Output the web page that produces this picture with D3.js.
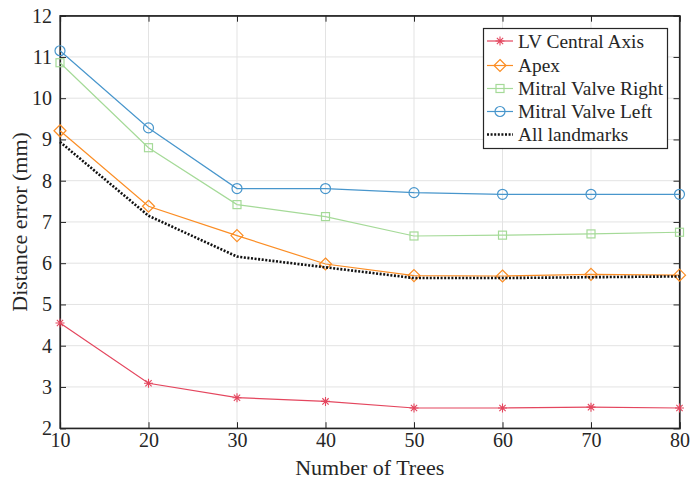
<!DOCTYPE html>
<html>
<head>
<meta charset="utf-8">
<script src="https://cdn.jsdelivr.net/npm/d3@7"></script>
<style>
  body { margin: 0; background: #fff; }
  svg { display: block; }
  svg text { font-family: "Liberation Serif", "Tinos", "Times New Roman", "DejaVu Serif", serif !important; fill: #262626; }
</style>
</head>
<body>
<svg id="chart" width="691" height="481"></svg>
<script>
const trees = [10, 20, 30, 40, 50, 60, 70, 80];
const lvCentralAxis = [4.55, 3.09, 2.74, 2.65, 2.49, 2.49, 2.51, 2.49];
const apex = [9.21, 7.38, 6.67, 5.98, 5.70, 5.69, 5.73, 5.71];
const mitralValveRight = [10.86, 8.80, 7.42, 7.13, 6.66, 6.68, 6.71, 6.75];
const mitralValveLeft = [11.15, 9.28, 7.81, 7.81, 7.71, 7.67, 7.67, 7.67];
const allLandmarks = [8.94, 7.15, 6.16, 5.90, 5.64, 5.64, 5.66, 5.68];
const yTicks = [2, 3, 4, 5, 6, 7, 8, 9, 10, 11, 12];
const xTicks = [10, 20, 30, 40, 50, 60, 70, 80];
const seriesNames = ["LV Central Axis", "Apex", "Mitral Valve Right", "Mitral Valve Left", "All landmarks"];

const series = [
  { name: seriesNames[0], values: lvCentralAxis, color: "#e4465e", marker: "star" },
  { name: seriesNames[1], values: apex, color: "#fb8d24", marker: "diamond" },
  { name: seriesNames[2], values: mitralValveRight, color: "#a5da98", marker: "square" },
  { name: seriesNames[3], values: mitralValveLeft, color: "#4896cc", marker: "circle" },
  { name: seriesNames[4], values: allLandmarks, color: "#111111", marker: "none", dotted: true }
];

const FONT = '"Liberation Serif", "Tinos", "Times New Roman", "DejaVu Serif", serif';
const svg = d3.select("#chart");
const L = 60, R = 679.5, T = 15.7, B = 428.2;
const x = d3.scaleLinear().domain([10, 80]).range([L, R]);
const y = d3.scaleLinear().domain([2, 12]).range([B, T]);

// grid
const grid = svg.append("g");
grid.selectAll(".gx").data(xTicks.slice(1, -1)).enter().append("line")
  .attr("x1", d => x(d)).attr("x2", d => x(d)).attr("y1", T).attr("y2", B)
  .attr("stroke", "#e3e3e3").attr("stroke-width", 1);
grid.selectAll(".gy").data(yTicks.slice(1, -1)).enter().append("line")
  .attr("y1", d => y(d)).attr("y2", d => y(d)).attr("x1", L).attr("x2", R)
  .attr("stroke", "#e3e3e3").attr("stroke-width", 1);

// axes
const axisColor = "#262626";
const xAxis = svg.append("g").attr("transform", `translate(0,${B})`)
  .call(d3.axisBottom(x).tickValues(xTicks).tickSize(-6).tickPadding(5).tickFormat(d3.format("d")));
const xAxisTop = svg.append("g").attr("transform", `translate(0,${T})`)
  .call(d3.axisTop(x).tickValues(xTicks).tickSize(-6).tickFormat(""));
const yAxis = svg.append("g").attr("transform", `translate(${L},0)`)
  .call(d3.axisLeft(y).tickValues(yTicks).tickSize(-6).tickPadding(8).tickFormat(d3.format("d")));
const yAxisR = svg.append("g").attr("transform", `translate(${R},0)`)
  .call(d3.axisRight(y).tickValues(yTicks).tickSize(-6).tickFormat(""));
[xAxis, xAxisTop, yAxis, yAxisR].forEach(g => {
  g.attr("font-family", FONT);
  g.select(".domain").attr("stroke", axisColor).attr("stroke-width", 1.2);
  g.selectAll(".tick line").attr("stroke", axisColor).attr("stroke-width", 1);
  g.selectAll("text").style("font-family", FONT).attr("font-size", 20).attr("fill", axisColor);
});
svg.append("rect").attr("x", L).attr("y", T).attr("width", R - L).attr("height", B - T)
  .attr("fill", "none").attr("stroke", axisColor).attr("stroke-width", 1.2);

// axis labels
svg.append("text").attr("x", (L + R) / 2).attr("y", 475).attr("text-anchor", "middle")
  .style("font-family", FONT).attr("font-size", 22).text("Number of Trees");
svg.append("text").attr("transform", `translate(27,${(T + B) / 2}) rotate(-90)`)
  .style("font-family", FONT).attr("text-anchor", "middle").attr("font-size", 22).text("Distance error (mm)");

// markers
function drawMarker(g, type, cx, cy, color) {
  if (type === "circle") {
    g.append("circle").attr("cx", cx).attr("cy", cy).attr("r", 5)
      .attr("fill", "none").attr("stroke", color).attr("stroke-width", 1.2);
  } else if (type === "square") {
    g.append("rect").attr("x", cx - 4).attr("y", cy - 4).attr("width", 8).attr("height", 8)
      .attr("fill", "none").attr("stroke", color).attr("stroke-width", 1.2);
  } else if (type === "diamond") {
    const s = 6;
    g.append("path").attr("d", `M${cx},${cy - s}L${cx + s},${cy}L${cx},${cy + s}L${cx - s},${cy}Z`)
      .attr("fill", "none").attr("stroke", color).attr("stroke-width", 1.2);
  } else if (type === "star") {
    const s = 4.5, d = s * 0.7;
    g.append("path").attr("d",
      `M${cx - s},${cy}L${cx + s},${cy}M${cx},${cy - s}L${cx},${cy + s}` +
      `M${cx - d},${cy - d}L${cx + d},${cy + d}M${cx - d},${cy + d}L${cx + d},${cy - d}`)
      .attr("fill", "none").attr("stroke", color).attr("stroke-width", 1.1);
  }
}

const line = d3.line().x((d, i) => x(trees[i])).y(d => y(d));
const plot = svg.append("g");
series.forEach(s => {
  const g = plot.append("g");
  g.append("path").datum(s.values).attr("d", line)
    .attr("fill", "none").attr("stroke", s.color)
    .attr("stroke-width", s.dotted ? 2.6 : 1.2)
    .attr("stroke-dasharray", s.dotted ? "2,1.6" : null);
  if (s.marker !== "none") {
    s.values.forEach((v, i) => drawMarker(g, s.marker, x(trees[i]), y(v), s.color));
  }
});

// legend
const lg = svg.append("g");
const lx = 483.5, ly = 28.5, lw = 184, lh = 120;
lg.append("rect").attr("x", lx).attr("y", ly).attr("width", lw).attr("height", lh)
  .attr("fill", "#fff").attr("stroke", axisColor).attr("stroke-width", 1.2);
const rowY = [41, 65.5, 88.5, 111.5, 134.5];
series.forEach((s, i) => {
  const yy = rowY[i];
  lg.append("line").attr("x1", 487).attr("x2", 513).attr("y1", yy).attr("y2", yy)
    .attr("stroke", s.color).attr("stroke-width", s.dotted ? 2.6 : 1.2)
    .attr("stroke-dasharray", s.dotted ? "2,1.6" : null);
  if (s.marker !== "none") drawMarker(lg, s.marker, 500, yy, s.color);
  lg.append("text").attr("x", 518).attr("y", yy + 6.5).attr("font-size", 19.4)
    .style("font-family", FONT).attr("fill", "#111").text(s.name);
});
</script>
</body>
</html>
